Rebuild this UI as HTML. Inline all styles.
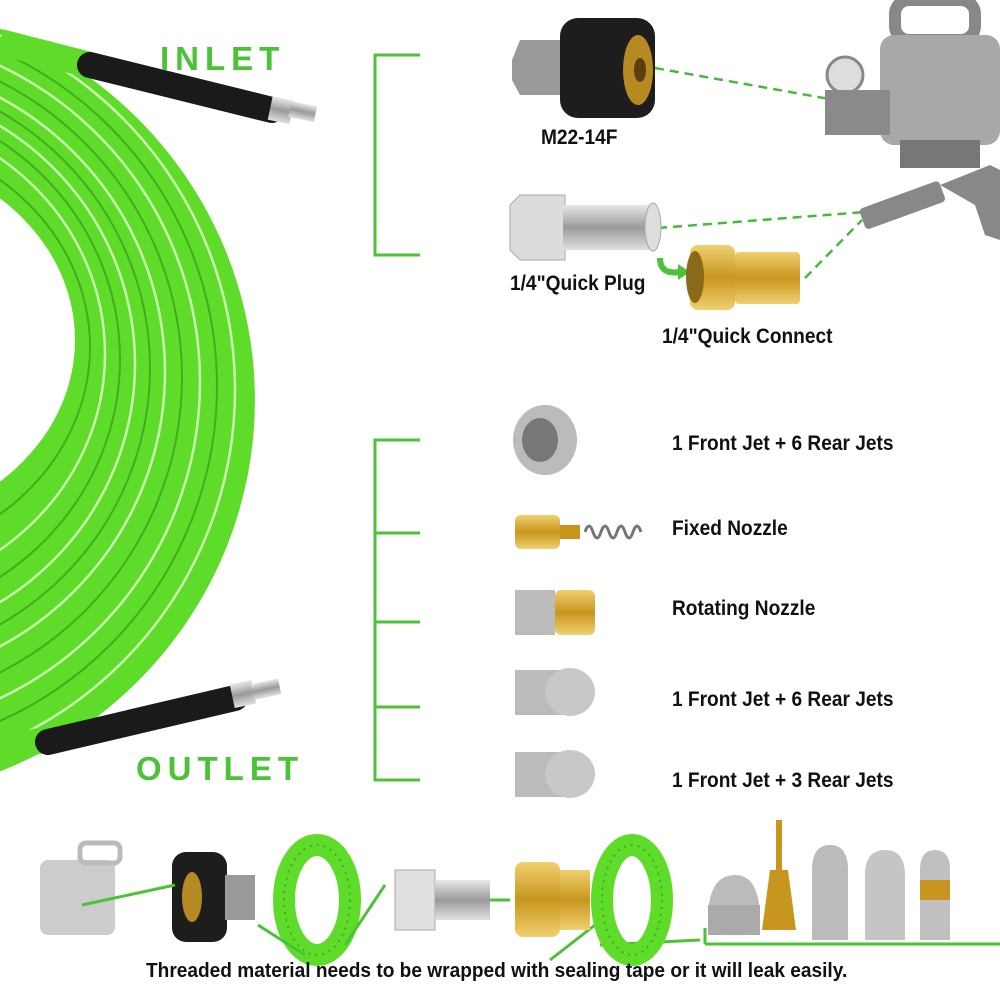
<!DOCTYPE html>
<html><head><meta charset="utf-8"><style>
body{margin:0;background:#fff;width:1000px;height:1000px;overflow:hidden;position:relative;font-family:"Liberation Sans",sans-serif}
.t{position:absolute;font-weight:bold;color:#111;font-size:21px;white-space:nowrap;transform:scaleX(0.91);transform-origin:0 0}
.big{position:absolute;font-family:"Liberation Sans",sans-serif;font-weight:900;color:#4cc236;font-size:33px;letter-spacing:6px}
</style></head><body>
<svg width="1000" height="1000" style="position:absolute;left:0;top:0">
<defs>
<linearGradient id="st" x1="0" y1="0" x2="0" y2="1"><stop offset="0" stop-color="#e8e8e8"/><stop offset=".5" stop-color="#9a9a9a"/><stop offset="1" stop-color="#e0e0e0"/></linearGradient>
<linearGradient id="br" x1="0" y1="0" x2="0" y2="1"><stop offset="0" stop-color="#f0d070"/><stop offset=".5" stop-color="#c8961e"/><stop offset="1" stop-color="#f0d070"/></linearGradient>
<clipPath id="cc"><ellipse cx="-150" cy="400" rx="405" ry="400"/></clipPath>
</defs>
<g clip-path="url(#cc)">
<ellipse cx="-150" cy="400" rx="405" ry="400" fill="#5fdc2a"/>
<ellipse cx="-150" cy="340" rx="225" ry="190" fill="#fff"/>
<g fill="none" stroke-width="2.5" stroke="#c9f5b0">
<ellipse cx="-150" cy="390" rx="385" ry="385"/>
<ellipse cx="-150" cy="382" rx="350" ry="350"/>
<ellipse cx="-150" cy="372" rx="315" ry="312"/>
<ellipse cx="-150" cy="364" rx="285" ry="280"/>
<ellipse cx="-150" cy="354" rx="255" ry="242"/>
</g>
<g fill="none" stroke-width="2" stroke="#3fae1a">
<ellipse cx="-150" cy="386" rx="367" ry="367"/>
<ellipse cx="-150" cy="377" rx="332" ry="331"/>
<ellipse cx="-150" cy="368" rx="300" ry="296"/>
<ellipse cx="-150" cy="359" rx="270" ry="262"/>
<ellipse cx="-150" cy="347" rx="240" ry="214"/>
</g>
</g>
<path d="M0 42 L90 65" stroke="#5fdc2a" stroke-width="26"/>
<path d="M90 65 L272 110" stroke="#1a1a1a" stroke-width="26" stroke-linecap="round"/>
<rect x="270" y="98" width="22" height="24" fill="url(#st)" transform="rotate(12 280 110)"/>
<rect x="290" y="103" width="26" height="16" fill="url(#st)" transform="rotate(12 300 110)"/>
<path d="M0 748 L45 740" stroke="#5fdc2a" stroke-width="26"/>
<path d="M48 742 L235 698" stroke="#1a1a1a" stroke-width="26" stroke-linecap="round"/>
<rect x="232" y="682" width="22" height="24" fill="url(#st)" transform="rotate(-12 243 694)"/>
<rect x="252" y="682" width="28" height="16" fill="url(#st)" transform="rotate(-12 262 690)"/>
<g stroke="#4cc236" stroke-width="3" fill="none">
<path d="M420 55 H375 V255 H420"/>
<path d="M420 440 H375 V780 H420"/>
<path d="M375 533 H420 M375 622 H420 M375 707 H420"/>
<path d="M705 944 H1003 V926 M705 944 V928"/>
</g>
<g stroke="#46b83a" stroke-width="2.5" stroke-dasharray="9 6" fill="none">
<path d="M655 68 L880 108"/>
<path d="M658 228 L865 212"/>
<path d="M805 278 L862 220"/>
</g>
<polygon points="512,60 520,40 570,40 570,95 520,95 512,80" fill="#9a9a9a"/>
<rect x="560" y="18" width="95" height="100" rx="18" fill="#1d1d1d"/>
<ellipse cx="638" cy="70" rx="15" ry="35" fill="#b58a22"/>
<ellipse cx="640" cy="70" rx="6" ry="12" fill="#5a3f0e"/>
<g fill="#a8a8a8">
<rect x="895" y="0" width="80" height="40" rx="14" fill="none" stroke="#888" stroke-width="12"/>
<rect x="880" y="35" width="120" height="110" rx="14"/>
<rect x="900" y="140" width="80" height="28" fill="#777"/>
<circle cx="845" cy="75" r="18" fill="#ddd" stroke="#888" stroke-width="3"/>
<rect x="825" y="90" width="65" height="45" fill="#8a8a8a"/>
</g>
<g fill="#888">
<rect x="860" y="195" width="85" height="22" rx="4" transform="rotate(-20 900 206)"/>
<path d="M940 185 L990 165 L1000 170 L1000 240 L985 235 L975 205 Z"/>
</g>
<polygon points="510,205 520,195 565,195 565,260 520,260 510,250" fill="#dcdcdc" stroke="#aaa"/>
<rect x="563" y="205" width="90" height="45" fill="url(#st)"/>
<ellipse cx="653" cy="227" rx="8" ry="24" fill="#ddd" stroke="#aaa"/>
<path d="M660 258 Q660 275 680 272" stroke="#4cc236" stroke-width="6" fill="none"/>
<polygon points="678,264 690,272 678,280" fill="#4cc236"/>
<rect x="690" y="245" width="45" height="65" rx="8" fill="url(#br)"/>
<rect x="735" y="252" width="65" height="52" rx="4" fill="url(#br)"/>
<ellipse cx="695" cy="277" rx="9" ry="26" fill="#8a6a18"/>
<g>
<ellipse cx="545" cy="440" rx="32" ry="35" fill="#bbb"/><ellipse cx="540" cy="440" rx="18" ry="22" fill="#777"/>
<rect x="515" y="515" width="45" height="34" rx="6" fill="url(#br)"/>
<path d="M560 525 h20 v14 h-20z" fill="#c8961e"/>
<path d="M585 532 q4-12 8 0 q4 12 8 0 q4-12 8 0 q4 12 8 0 q4-12 8 0 q4 12 8 0 q4-12 8 0" stroke="#777" stroke-width="3" fill="none"/>
<rect x="515" y="590" width="40" height="45" fill="#bbb"/><rect x="555" y="590" width="40" height="45" rx="6" fill="url(#br)"/>
<rect x="515" y="670" width="50" height="45" fill="#bbb"/><ellipse cx="570" cy="692" rx="25" ry="24" fill="#c8c8c8"/>
<rect x="515" y="752" width="50" height="45" fill="#bbb"/><ellipse cx="570" cy="774" rx="25" ry="24" fill="#c8c8c8"/>
</g>
<g>
<rect x="40" y="860" width="75" height="75" rx="8" fill="#ccc"/>
<rect x="80" y="843" width="40" height="20" rx="6" fill="none" stroke="#bbb" stroke-width="5"/>
<rect x="172" y="852" width="55" height="90" rx="14" fill="#1d1d1d"/>
<ellipse cx="192" cy="897" rx="10" ry="25" fill="#b58a22"/>
<rect x="225" y="875" width="30" height="45" fill="#999"/>
<path d="M82 905 L175 885" stroke="#4cc236" stroke-width="3"/>
<ellipse cx="317" cy="900" rx="33" ry="55" fill="none" stroke="#5fdc2a" stroke-width="22"/>
<ellipse cx="317" cy="900" rx="33" ry="55" fill="none" stroke="#3fae1a" stroke-width="2" stroke-dasharray="2 5"/>
<rect x="395" y="870" width="40" height="60" fill="#e0e0e0" stroke="#aaa"/>
<rect x="435" y="880" width="55" height="40" fill="url(#st)"/>
<path d="M258 925 L305 955 M345 945 L385 885 M550 960 L595 925 M600 945 L700 940" stroke="#4cc236" stroke-width="3"/>
<path d="M490 900 L510 900" stroke="#4cc236" stroke-width="3"/>
<rect x="515" y="862" width="45" height="75" rx="8" fill="url(#br)"/>
<rect x="560" y="870" width="30" height="60" fill="url(#br)"/>
<ellipse cx="632" cy="900" rx="30" ry="55" fill="none" stroke="#5fdc2a" stroke-width="22"/>
<ellipse cx="632" cy="900" rx="30" ry="55" fill="none" stroke="#3fae1a" stroke-width="2" stroke-dasharray="2 5"/>
<path d="M708 920 Q708 875 735 875 Q760 875 760 920 Z" fill="#bbb"/>
<rect x="708" y="905" width="52" height="30" fill="#aaa"/>
<rect x="776" y="820" width="6" height="50" fill="#c8961e"/>
<path d="M770 870 h18 l8 60 h-34z" fill="#c8961e"/>
<path d="M812 905 V870 Q812 845 830 845 Q848 845 848 870 V940 H812Z" fill="#bbb"/>
<path d="M865 905 V875 Q865 850 885 850 Q905 850 905 875 V940 H865Z" fill="#c5c5c5"/>
<path d="M920 905 V870 Q920 850 935 850 Q950 850 950 870 V940 H920Z" fill="#c0c0c0"/>
<rect x="920" y="880" width="30" height="20" fill="#c8961e"/>
</g>
</svg>
<div class="big" style="left:160px;top:40px">INLET</div>
<div class="big" style="left:136px;top:750px">OUTLET</div>
<div class="t" style="left:541px;top:126px">M22-14F</div>
<div class="t" style="left:510px;top:272px">1/4"Quick Plug</div>
<div class="t" style="left:662px;top:325px">1/4"Quick Connect</div>
<div class="t" style="left:672px;top:432px">1 Front Jet + 6 Rear Jets</div>
<div class="t" style="left:672px;top:517px">Fixed Nozzle</div>
<div class="t" style="left:672px;top:597px">Rotating Nozzle</div>
<div class="t" style="left:672px;top:688px">1 Front Jet + 6 Rear Jets</div>
<div class="t" style="left:672px;top:769px">1 Front Jet + 3 Rear Jets</div>
<div class="t" style="left:146px;top:960px;font-size:20px;transform:scaleX(0.955)">Threaded material needs to be wrapped with sealing tape or it will leak easily.</div>
</body></html>
